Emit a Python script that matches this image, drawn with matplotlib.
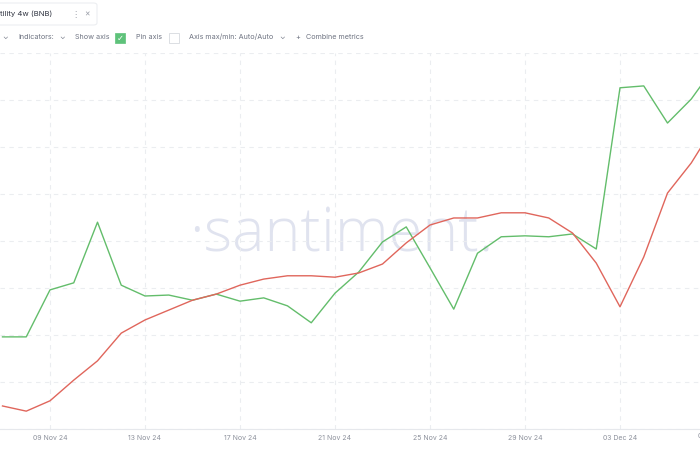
import matplotlib
matplotlib.use("Agg")
import matplotlib.pyplot as plt
import matplotlib.dates as mdates
from matplotlib.patches import FancyBboxPatch, Rectangle
import numpy as np
import datetime as dt

# daily values, 07 Nov 24 .. 07 Dec 24 (axis values are hidden in the screenshot)
start = dt.date(2024, 11, 7)
green = [1.96, 1.96, 2.96, 3.11, 4.40, 3.06, 2.83, 2.85, 2.74, 2.87, 2.72, 2.79,
         2.62, 2.26, 2.89, 3.34, 3.98, 4.30, 3.43, 2.55, 3.74, 4.09, 4.11, 4.09,
         4.15, 3.83, 7.26, 7.30, 6.51, 7.02, 7.72]
red = [0.49, 0.38, 0.60, 1.04, 1.45, 2.04, 2.32, 2.53, 2.74, 2.87, 3.06, 3.19,
       3.26, 3.26, 3.23, 3.32, 3.51, 3.96, 4.34, 4.49, 4.49, 4.60, 4.60, 4.49,
       4.17, 3.53, 2.60, 3.66, 5.02, 5.66, 6.47]
dates = [start + dt.timedelta(days=i) for i in range(len(green))]
tick_dates = [dt.date(2024, 11, 9) + dt.timedelta(days=4 * i) for i in range(8)]

FONT = ["Inter", "DejaVu Sans"]
GRID = "#ebedf0"
TICK = "#8d919c"

fig = plt.figure(figsize=(7, 4.5), dpi=100)
ax = fig.add_axes([0, 21 / 450, 1, 376 / 450])

# the screenshot is cropped: left edge just before 07 Nov, right edge before 07 Dec
x0 = mdates.date2num(start) - 2.5 / 23.75
x1 = mdates.date2num(start) + 697.5 / 23.75
ax.set_xlim(x0, x1)
ax.set_ylim(0, 8)

ax.plot(dates, green, color="#63bd6b", lw=1.0)
ax.plot(dates, red, color="#e0665c", lw=1.0)

ax.set_yticks(np.arange(0, 9, 1))
ax.set_xticks(tick_dates[:-1])
ax.grid(True, color=GRID, ls=(0, (4, 4)), lw=0.8)
ax.tick_params(axis="y", length=0, labelleft=False)
ax.tick_params(axis="x", length=0, pad=4)
ax.xaxis.set_major_formatter(mdates.DateFormatter("%d %b %y"))
for lab in ax.get_xticklabels():
    lab.set_fontsize(5)
    lab.set_color(TICK)
    lab.set_family(FONT)
# last label, cut by the right edge of the screenshot
ax.text(mdates.date2num(tick_dates[-1]), -4 / 376, "07 Dec 24", transform=ax.get_xaxis_transform(),
        ha="center", va="top", fontsize=5, color=TICK, family=FONT, clip_on=False)
for s in ["top", "left", "right"]:
    ax.spines[s].set_visible(False)
ax.spines["bottom"].set_color("#e6e8ec")
ax.spines["bottom"].set_linewidth(0.8)

# watermark
ax.text(0.487, 0.515, "\u00b7santiment.", transform=ax.transAxes, ha="center", va="center",
        fontsize=44, color="#e0e3ef", family=["Open Sans", "DejaVu Sans"], fontweight="light", zorder=0)

# toolbar
fig.patches.append(FancyBboxPatch((-5 / 700, 425 / 450), 102 / 700, 22 / 450,
                                  boxstyle="round,pad=0,rounding_size=0.005",
                                  transform=fig.transFigure, fc="white", ec="#eceef1", lw=0.8))
fig.text(0 / 700, 1 - 14 / 450, "tility 4w (BNB)", fontsize=5.6, color="#2f3340", family=FONT, va="center")
fig.text(71 / 700, 1 - 14 / 450, "\u22ee", fontsize=6, color="#9a9ea8", family=FONT, va="center")
fig.text(84 / 700, 1 - 14 / 450, "\u00d7", fontsize=6, color="#9a9ea8", family=FONT, va="center")

ty = 1 - 37 / 450
gray = "#6f7482"
items = [(2, "\u2304"), (18, "Indicators:"), (59, "\u2304"), (75, "Show axis"),
         (136, "Pin axis"), (189, "Axis max/min: Auto/Auto"), (279, "\u2304"),
         (295, "+"), (306, "Combine metrics")]
for x, s in items:
    fig.text(x / 700, ty, s, fontsize=5.2, color=gray, family=FONT, va="center")
fig.patches.append(Rectangle((115 / 700, 1 - 43 / 450), 10 / 700, 10 / 450,
                             transform=fig.transFigure, fc="#5ec27a", ec="#5ec27a", lw=0.5))
fig.text(120 / 700, 1 - 38 / 450, "\u2713", fontsize=6, color="white", family=["DejaVu Sans"],
         ha="center", va="center")
fig.patches.append(Rectangle((169 / 700, 1 - 43 / 450), 10 / 700, 10 / 450,
                             transform=fig.transFigure, fc="white", ec="#d6d9de", lw=0.6))

fig.savefig("out.png", dpi=100)
